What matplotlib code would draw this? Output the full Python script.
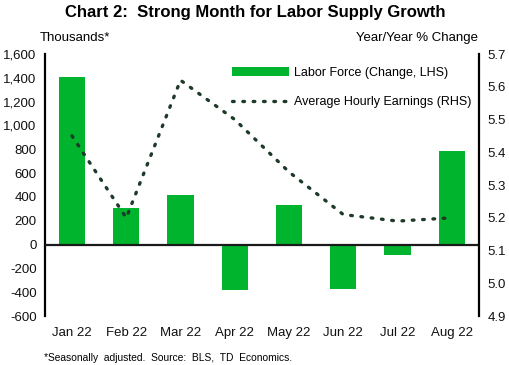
import matplotlib.pyplot as plt
import numpy as np

plt.rcParams['font.family'] = ['Liberation Sans', 'DejaVu Sans']

# data
months = ["Jan 22", "Feb 22", "Mar 22", "Apr 22", "May 22", "Jun 22", "Jul 22", "Aug 22"]
labor_force = [1403, 311, 420, -378, 336, -370, -84, 790]
ahe = [5.45, 5.20, 5.62, 5.50, 5.34, 5.21, 5.19, 5.20]

green = "#00B42D"
dark = "#1E3A28"

fig = plt.figure(figsize=(5.1, 3.65), dpi=100)
ax = fig.add_axes([0.088, 0.134, 0.851, 0.718])
ax2 = ax.twinx()

x = np.arange(len(months))
ax.bar(x, labor_force, width=0.48, color=green, label="Labor Force (Change, LHS)", zorder=2)
ax.axhline(0, color="#1a1a1a", lw=1.6, zorder=3)
ax2.plot(x, ahe, color=dark, lw=2.4, linestyle=(0, (0.5, 2.6)), dash_capstyle="round",
         label="Average Hourly Earnings (RHS)")

ax.set_xlim(-0.5, len(months) - 0.5)
ax.set_ylim(-600, 1600)
ax.set_yticks(range(-600, 1601, 200))
ax.set_yticklabels([f"{v:,}" for v in range(-600, 1601, 200)])
ax2.set_ylim(4.9, 5.7)
ax2.set_yticks(np.arange(4.9, 5.71, 0.1))
ax2.set_yticklabels([f"{v:.1f}" for v in np.arange(4.9, 5.71, 0.1)])
ax.set_xticks(x)
ax.set_xticklabels(months)

for a in (ax, ax2):
    for s in ("top", "bottom"):
        a.spines[s].set_visible(False)
    a.tick_params(length=0, labelsize=9.5, colors="#111111")
ax.spines["right"].set_visible(False)
ax2.spines["left"].set_visible(False)
ax.spines["left"].set_linewidth(1.6)
ax2.spines["right"].set_linewidth(1.6)
ax.tick_params(axis="x", pad=8)
ax.tick_params(axis="y", pad=6)
ax2.tick_params(axis="y", pad=6)

h1, l1 = ax.get_legend_handles_labels()
h2, l2 = ax2.get_legend_handles_labels()
ax2.legend(h1 + h2, l1 + l2, loc="upper left", bbox_to_anchor=(0.405, 0.995), frameon=False,
           fontsize=9, handlelength=4.6, labelspacing=1.4, handletextpad=0.35)

fig.text(0.5, 0.965, "Chart 2:  Strong Month for Labor Supply Growth", ha="center", va="center",
         fontsize=12, fontweight="bold")
fig.text(0.078, 0.895, "Thousands*", ha="left", va="center", fontsize=9.5)
fig.text(0.937, 0.895, "Year/Year % Change", ha="right", va="center", fontsize=9.5)
fig.text(0.086, 0.02, "*Seasonally  adjusted.  Source:  BLS,  TD  Economics.", ha="left", va="center",
         fontsize=7.4)

fig.savefig("out.png", dpi=100)
